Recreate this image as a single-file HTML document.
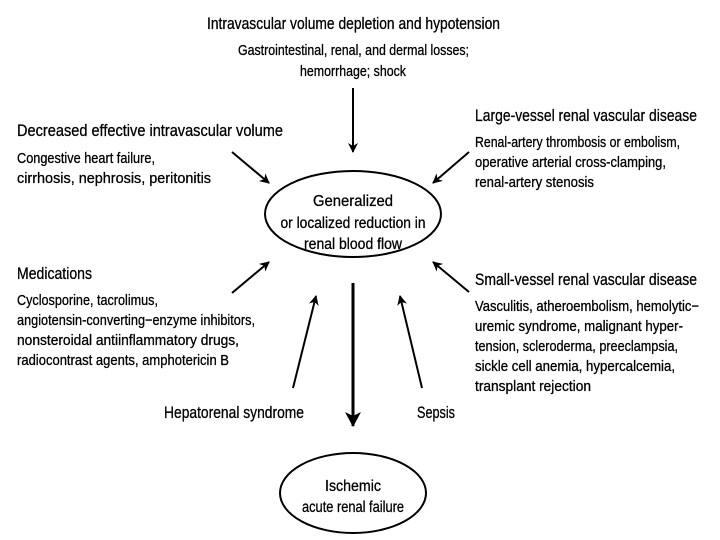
<!DOCTYPE html>
<html><head><meta charset="utf-8"><style>html,body{margin:0;padding:0;background:#fff}svg{display:block}text{font-family:"Liberation Sans",sans-serif;fill:#000;stroke:#000;stroke-width:0.3}</style></head><body>
<svg width="720" height="540" viewBox="0 0 720 540" xmlns="http://www.w3.org/2000/svg">
<defs>
<marker id="a" markerWidth="10" markerHeight="10" refX="9" refY="5" orient="auto" markerUnits="userSpaceOnUse"><path d="M0,0 L10,5 L0,10 L3,5 z" fill="#000"/></marker>
<marker id="b" markerWidth="16" markerHeight="16" refX="14" refY="8" orient="auto" markerUnits="userSpaceOnUse"><path d="M0,0 L15,8 L0,16 L4,8 z" fill="#000"/></marker>
</defs>
<g stroke="#000" stroke-width="2" fill="none">
<ellipse cx="353" cy="214" rx="88" ry="43"/>
<ellipse cx="353" cy="493" rx="73" ry="40"/>
<line x1="353" y1="88" x2="353" y2="152" marker-end="url(#a)"/>
<line x1="232" y1="152" x2="269" y2="183" marker-end="url(#a)"/>
<line x1="469" y1="152" x2="433" y2="183" marker-end="url(#a)"/>
<line x1="232" y1="293" x2="269" y2="262" marker-end="url(#a)"/>
<line x1="469" y1="292" x2="433" y2="262" marker-end="url(#a)"/>
<line x1="293" y1="388" x2="316" y2="296" marker-end="url(#a)"/>
<line x1="422" y1="388" x2="400" y2="296" marker-end="url(#a)"/>
<line x1="353" y1="283" x2="353" y2="426" stroke-width="3" marker-end="url(#b)"/>
</g>
<g font-size="17">
<text x="207" y="29" textLength="293" lengthAdjust="spacingAndGlyphs">Intravascular volume depletion and hypotension</text>
<text x="17" y="136" textLength="266" lengthAdjust="spacingAndGlyphs">Decreased effective intravascular volume</text>
<text x="475" y="121" textLength="222" lengthAdjust="spacingAndGlyphs">Large-vessel renal vascular disease</text>
<text x="17" y="279" textLength="75" lengthAdjust="spacingAndGlyphs">Medications</text>
<text x="475" y="285" textLength="222" lengthAdjust="spacingAndGlyphs">Small-vessel renal vascular disease</text>
<text x="164" y="418" textLength="140" lengthAdjust="spacingAndGlyphs">Hepatorenal syndrome</text>
<text x="417" y="418" textLength="38" lengthAdjust="spacingAndGlyphs">Sepsis</text>
</g>
<g font-size="15">
<text x="238" y="55" textLength="231" lengthAdjust="spacingAndGlyphs">Gastrointestinal, renal, and dermal losses;</text>
<text x="300" y="76" textLength="106" lengthAdjust="spacingAndGlyphs">hemorrhage; shock</text>
<text x="17" y="163" textLength="138" lengthAdjust="spacingAndGlyphs">Congestive heart failure,</text>
<text x="17" y="183" textLength="194" lengthAdjust="spacingAndGlyphs">cirrhosis, nephrosis, peritonitis</text>
<text x="475" y="147" textLength="205" lengthAdjust="spacingAndGlyphs">Renal-artery thrombosis or embolism,</text>
<text x="475" y="167" textLength="191" lengthAdjust="spacingAndGlyphs">operative arterial cross-clamping,</text>
<text x="475" y="187" textLength="119" lengthAdjust="spacingAndGlyphs">renal-artery stenosis</text>
<text x="17" y="305" textLength="141" lengthAdjust="spacingAndGlyphs">Cyclosporine, tacrolimus,</text>
<text x="17" y="325" textLength="238" lengthAdjust="spacingAndGlyphs">angiotensin-converting−enzyme inhibitors,</text>
<text x="17" y="345" textLength="222" lengthAdjust="spacingAndGlyphs">nonsteroidal antiinflammatory drugs,</text>
<text x="17" y="365" textLength="212" lengthAdjust="spacingAndGlyphs">radiocontrast agents, amphotericin B</text>
<text x="475" y="311" textLength="224" lengthAdjust="spacingAndGlyphs">Vasculitis, atheroembolism, hemolytic−</text>
<text x="475" y="331" textLength="208" lengthAdjust="spacingAndGlyphs">uremic syndrome, malignant hyper-</text>
<text x="475" y="351" textLength="203" lengthAdjust="spacingAndGlyphs">tension, scleroderma, preeclampsia,</text>
<text x="475" y="371" textLength="200" lengthAdjust="spacingAndGlyphs">sickle cell anemia, hypercalcemia,</text>
<text x="475" y="391" textLength="116" lengthAdjust="spacingAndGlyphs">transplant rejection</text>
</g>
<g font-size="16" text-anchor="middle">
<text x="353" y="206" textLength="80" lengthAdjust="spacingAndGlyphs">Generalized</text>
<text x="353" y="228" textLength="145" lengthAdjust="spacingAndGlyphs">or localized reduction in</text>
<text x="353" y="249" textLength="98" lengthAdjust="spacingAndGlyphs">renal blood flow</text>
<text x="353" y="491" textLength="56" lengthAdjust="spacingAndGlyphs">Ischemic</text>
<text x="353" y="512" textLength="102" lengthAdjust="spacingAndGlyphs">acute renal failure</text>
</g>
</svg>
</body></html>
